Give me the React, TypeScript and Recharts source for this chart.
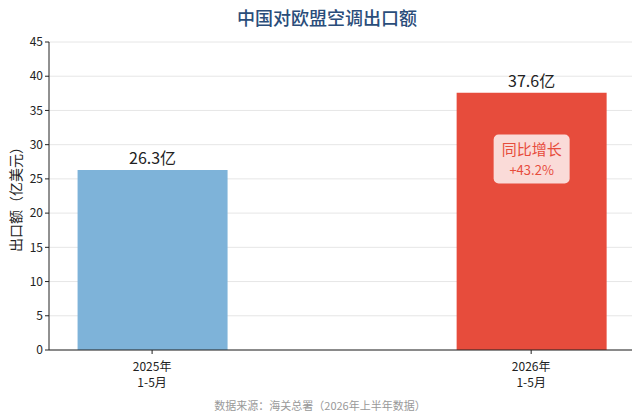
import React from 'react';
import { BarChart, Bar, XAxis, YAxis, CartesianGrid, LabelList, Label, Cell } from 'recharts';

const periods = ['2025年\n1-5月', '2026年\n1-5月'];
const exportValues = [26.3, 37.6];
const barColors = ['#7eb3d9', '#e74c3c'];
const growthNotes = ['', '同比增长\n+43.2%'];
const yTicks = [0, 5, 10, 15, 20, 25, 30, 35, 40, 45];

const data = periods.map((p, i) => ({ pos: i, name: p, value: exportValues[i], note: growthNotes[i] }));

const FONT = '"Noto Sans CJK SC", "Noto Sans", sans-serif';

const XTick = (props: any) => {
    const { x, y, payload } = props;
    const lines = periods[payload.value].split('\n');
    return (
        <g transform={`translate(${x},${y})`}>
            {lines.map((l, i) => (
                <text key={i} x={0} y={15 + i * 16} textAnchor="middle" fontSize={12} fill="#222" fontFamily={FONT}>{l}</text>
            ))}
        </g>
    );
};

const NoteLabel = (props: any) => {
    const { x, y, width, height, index } = props;
    const note = growthNotes[index];
    if (!note) return null;
    const [a, b] = note.split('\n');
    const cx = x + width / 2;
    const cy = y + height * 0.26;
    return (
        <g>
            <rect x={cx - 38} y={cy - 25} width={76} height={49} rx={5} fill="#fff" fillOpacity={0.8} />
            <text x={cx} y={cy - 5} textAnchor="middle" fontSize={15} fill="#e74c3c" fontFamily={FONT}>{a}</text>
            <text x={cx} y={cy + 15} textAnchor="middle" fontSize={13} fill="#e74c3c" fontFamily={FONT}>{b}</text>
        </g>
    );
};

export default function App() {
    return (
        <div style={{ position: 'absolute', left: 0, top: 0, width: 640, height: 419, background: '#fff', fontFamily: FONT }}>
            <div style={{ position: 'absolute', left: 0, width: 654, top: 4, textAlign: 'center', fontSize: 18, color: '#2a4d7a', fontWeight: 500 }}>
                中国对欧盟空调出口额
            </div>
            <BarChart width={640} height={419} data={data} margin={{ top: 42, right: 8, left: 0, bottom: 19 }}>
                <CartesianGrid vertical={false} stroke="#e6e6e6" />
                <XAxis
                    dataKey="pos"
                    type="number"
                    domain={[-0.272, 1.266]}
                    ticks={[0, 1]}
                    tick={<XTick />}
                    height={50}
                    stroke="#222"
                    tickSize={4}
                    allowDataOverflow
                />
                <YAxis
                    width={49}
                    domain={[0, 45]}
                    ticks={yTicks}
                    stroke="#222"
                    tickSize={4}
                    tick={{ fontSize: 12, fill: '#222', fontFamily: FONT }}
                >
                    <Label
                        content={(p: any) => {
                            const vb = p.viewBox;
                            const cy = vb.y + vb.height / 2;
                            return (
                                <text x={21} y={cy} transform={`rotate(-90, 21, ${cy})`} textAnchor="middle" fontSize={14} fill="#222" fontFamily={FONT}>
                                    出口额（亿美元）
                                </text>
                            );
                        }}
                    />
                </YAxis>
                <Bar dataKey="value" barSize={150} isAnimationActive={false}>
                    {data.map((d, i) => <Cell key={i} fill={barColors[i]} />)}
                    <LabelList dataKey="value" position="top" offset={6} formatter={(v: any) => `${v}亿`} fontSize={16} fill="#222" fontFamily={FONT} />
                    <LabelList dataKey="note" content={<NoteLabel />} />
                </Bar>
            </BarChart>
            <div style={{ position: 'absolute', left: 0, width: 640, top: 397, textAlign: 'center', fontSize: 11, color: '#999' }}>
                数据来源：海关总署（2026年上半年数据）
            </div>
        </div>
    );
}
